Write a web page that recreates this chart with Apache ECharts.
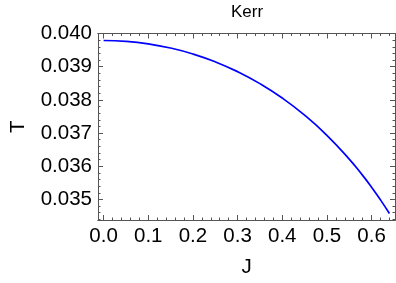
<!DOCTYPE html>
<html>
<head>
<meta charset="utf-8">
<script src="https://cdn.jsdelivr.net/npm/echarts@6/dist/echarts.min.js"></script>
<style>html,body{margin:0;padding:0;background:#fff}#c{width:396px;height:283px}</style>
</head>
<body>
<div id="c"></div>
<script>
const jValues = [0, 0.05, 0.1, 0.15, 0.2, 0.25, 0.3, 0.35, 0.4, 0.45, 0.5, 0.55, 0.58, 0.6, 0.62, 0.64];
const tValues = [0.039789, 0.039764, 0.039689, 0.039562, 0.039383, 0.039147, 0.038851, 0.038489, 0.038055, 0.037540, 0.036932, 0.036215, 0.035724, 0.035368, 0.034986, 0.034577];
const xTickLabels = [0, 0.1, 0.2, 0.3, 0.4, 0.5, 0.6];
const yTickLabels = [0.035, 0.036, 0.037, 0.038, 0.039, 0.040];
const xMinorTicks = [];
for (let i = 0; i <= 32; i++) { const v = +(i * 0.02).toFixed(2); if (i % 5 !== 0) xMinorTicks.push(v); }
const yMinorTicks = [];
for (let i = 172; i <= 200; i++) { const v = +(i * 0.0002).toFixed(4); if (i % 5 !== 0) yMinorTicks.push(v); }

const XMIN = -0.0125, XMAX = 0.6525, YMIN = 0.03438, YMAX = 0.0400;
const frameColor = '#555';
const font = 'Liberation Sans, Arial, sans-serif';
const labelSize = 20.5;

function xAx(pos, vals, len, labels) {
  return {
    type: 'value', position: pos, min: XMIN, max: XMAX, gridIndex: 0,
    axisLine: { show: true, onZero: false, lineStyle: { color: frameColor, width: 1 } },
    splitLine: { show: false },
    axisTick: { show: true, inside: true, length: len, customValues: vals, lineStyle: { color: frameColor, width: 1 } },
    axisLabel: labels ? { show: true, customValues: vals, margin: 6, color: '#000', fontSize: labelSize, fontFamily: font, formatter: v => v.toFixed(1) } : { show: false },
    name: labels && pos === 'bottom' ? 'J' : '',
    nameLocation: 'middle', nameGap: 37,
    nameTextStyle: { color: '#000', fontSize: labelSize, fontFamily: font }
  };
}
function yAx(pos, vals, len, labels) {
  return {
    type: 'value', position: pos, min: YMIN, max: YMAX, gridIndex: 0,
    axisLine: { show: true, onZero: false, lineStyle: { color: frameColor, width: 1 } },
    splitLine: { show: false },
    axisTick: { show: true, inside: true, length: len, customValues: vals, lineStyle: { color: frameColor, width: 1 } },
    axisLabel: labels ? { show: true, customValues: vals, margin: 6, color: '#000', fontSize: labelSize, fontFamily: font, formatter: v => v.toFixed(3) } : { show: false },
    name: labels && pos === 'left' ? 'T' : '',
    nameLocation: 'middle', nameGap: 69, nameRotate: 90,
    nameTextStyle: { color: '#000', fontSize: labelSize, fontFamily: font }
  };
}

const chart = echarts.init(document.getElementById('c'), null, { renderer: 'canvas' });
chart.setOption({
  animation: false,
  title: { text: 'Kerr', left: 242, top: -1, textAlign: 'center', textStyle: { fontSize: 17, fontWeight: 'normal', color: '#000', fontFamily: font } },
  grid: { left: 89, right: 1, top: 33.5, bottom: 59.5, containLabel: false },
  xAxis: [
    xAx('bottom', xTickLabels, 5, true),
    xAx('bottom', xMinorTicks, 2.5, false),
    xAx('top', xTickLabels, 5, false),
    xAx('top', xMinorTicks, 2.5, false)
  ],
  yAxis: [
    yAx('left', yTickLabels, 5, true),
    yAx('left', yMinorTicks, 2.5, false),
    yAx('right', yTickLabels, 5, false),
    yAx('right', yMinorTicks, 2.5, false)
  ],
  series: [{
    type: 'line', xAxisIndex: 0, yAxisIndex: 0, smooth: true, showSymbol: false,
    lineStyle: { color: '#0000ff', width: 1.7 },
    data: jValues.map((j, i) => [j, tValues[i]])
  }]
});
</script>
</body>
</html>
